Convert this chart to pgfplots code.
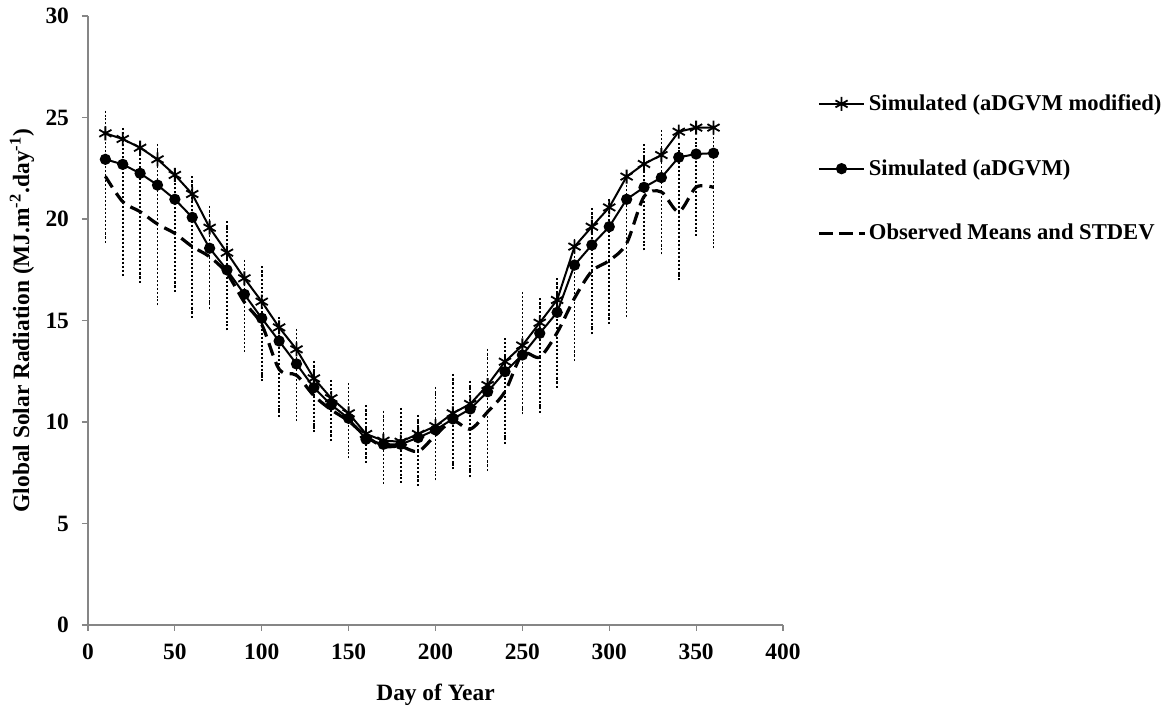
\documentclass[border=0pt]{standalone}
\usepackage{pgfplots}
\pgfplotsset{compat=1.18}
\usepackage{pgfplotstable}
\usepackage{fontspec}
\setmainfont{Liberation Serif}

\definecolor{axgray}{RGB}{134,134,134}

% simulated, aDGVM modified
\pgfplotstableread{
day val
10 24.22
20 23.94
30 23.51
40 22.94
50 22.17
60 21.23
70 19.57
80 18.34
90 17.08
100 15.93
110 14.66
120 13.58
130 12.15
140 11.17
150 10.43
160 9.41
170 9.08
180 9.03
190 9.41
200 9.80
210 10.43
220 10.89
230 11.82
240 12.97
250 13.77
260 14.89
270 16.01
280 18.64
290 19.62
300 20.57
310 22.09
320 22.71
330 23.15
340 24.30
350 24.50
360 24.50
}\modtab

% simulated, aDGVM
\pgfplotstableread{
day val
10 22.94
20 22.69
30 22.25
40 21.67
50 20.97
60 20.08
70 18.56
80 17.49
90 16.29
100 15.11
110 13.99
120 12.86
130 11.69
140 10.84
150 10.18
160 9.15
170 8.90
180 8.90
190 9.23
200 9.61
210 10.15
220 10.64
230 11.49
240 12.48
250 13.30
260 14.37
270 15.40
280 17.73
290 18.72
300 19.62
310 20.97
320 21.56
330 22.04
340 23.04
350 23.20
360 23.24
}\simtab

% observed mean, mean+sd, mean-sd
\pgfplotstableread{
day mean hi lo
10 22.10 25.12 19.05
20 20.85 24.27 17.41
30 20.36 23.64 17.08
40 19.75 23.48 15.96
50 19.29 21.96 16.62
60 18.64 21.89 15.35
70 18.14 20.44 15.80
80 17.32 19.66 14.73
90 15.90 17.77 13.68
100 14.80 17.46 12.23
110 12.60 14.94 10.48
120 12.30 14.37 10.26
130 11.30 12.81 9.72
140 10.60 11.86 9.28
150 10.05 11.69 8.42
160 9.30 10.62 8.21
170 8.80 10.34 7.18
180 8.80 10.48 7.23
190 8.55 10.13 7.06
200 9.35 11.49 7.34
210 10.05 12.15 7.88
220 9.65 11.82 7.50
230 10.50 13.38 7.80
240 11.50 13.91 9.15
250 13.35 16.17 10.59
260 13.20 15.88 10.67
270 14.40 16.86 11.91
280 16.10 18.80 13.22
290 17.43 20.33 14.53
300 17.95 20.77 15.06
310 18.80 22.20 15.40
320 21.10 23.48 18.67
330 21.33 24.17 18.47
340 20.36 23.53 17.19
350 21.57 23.78 19.38
360 21.56 24.35 18.77
}\obstab

\begin{document}
\begin{tikzpicture}
\begin{axis}[
  scale only axis, width=347.5pt, height=304.5pt,
  xmin=0, xmax=400, ymin=0, ymax=30,
  xtick distance=50, ytick distance=5,
  axis lines=left, axis line style={-, axgray, line width=0.6pt},
  tick style={axgray, line width=0.6pt}, tick align=outside,
  major tick length=3pt,
  /pgf/number format/assume math mode=true,
  tick label style={font=\fontsize{11.7}{13}\selectfont\bfseries},
  xticklabel style={yshift=-3pt},
  yticklabel style={xshift=-3pt},
  xlabel={Day of Year},
  ylabel={Global Solar Radiation (MJ.m\textsuperscript{-2}.day\textsuperscript{-1})},
  every axis x label/.style={at={(axis description cs:0.5,-0.115)}, anchor=center,
    font=\fontsize{11.7}{13}\selectfont\bfseries},
  every axis y label/.style={at={(axis description cs:-0.095,0.5)}, rotate=90, anchor=center,
    font=\fontsize{11.7}{13}\selectfont\bfseries},
  reverse legend,
  legend cell align=left,
  legend style={at={(1.04,0.885)}, anchor=north west, draw=none, fill=none,
    font=\fontsize{11.3}{13}\selectfont\bfseries, row sep=19pt,
    nodes={inner xsep=1.5pt}},
  legend image code/.code={\draw[mark repeat=2, mark phase=2, #1]
    plot coordinates {(0cm,0cm) (0.4cm,0cm) (0.8cm,0cm)};},
]
\addplot[black, line width=1.6pt, dash pattern=on 6.5pt off 3.5pt, smooth, no markers,
  error bars/.cd, y dir=both, y explicit,
  error bar style={solid, line width=0.8pt, black, dash pattern=on 1pt off 1pt},
  error mark options={solid, line width=0.8pt, black, dash pattern=on 1pt off 1pt, mark size=2.2pt}]
  table[x=day, y=mean,
    y error plus expr=\thisrow{hi}-\thisrow{mean},
    y error minus expr=\thisrow{mean}-\thisrow{lo}] {\obstab};
\addlegendentry{Observed Means and STDEV}
\addplot[black, line width=1pt, mark=*, mark size=2.3pt, mark options={solid}]
  table[x=day, y=val] {\simtab};
\addlegendentry{Simulated (aDGVM)}
\addplot[black, line width=1pt, mark=asterisk, mark size=3.5pt, mark options={solid, line width=0.9pt}]
  table[x=day, y=val] {\modtab};
\addlegendentry{Simulated (aDGVM modified)}
\end{axis}
\pgfresetboundingbox
\path[use as bounding box] ([xshift=-44pt,yshift=-42.5pt]current axis.south west) rectangle ++(586pt,355pt);
\end{tikzpicture}
\end{document}
